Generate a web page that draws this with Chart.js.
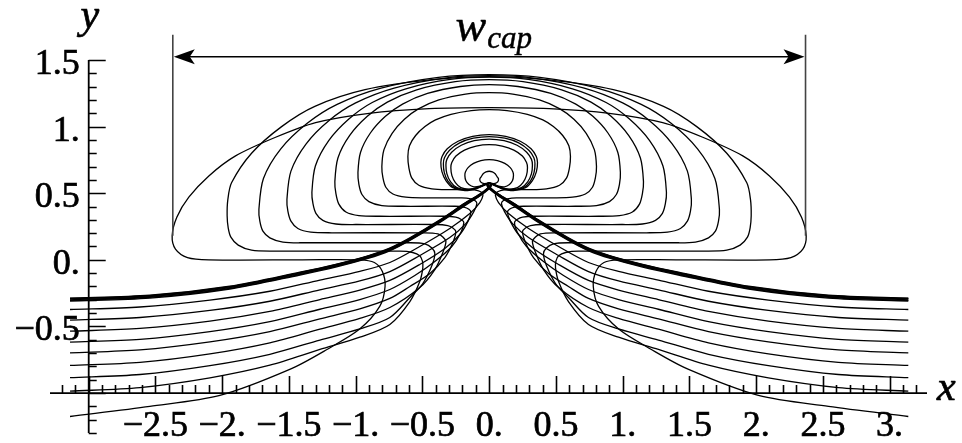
<!DOCTYPE html>
<html><head><meta charset="utf-8">
<script src="https://cdn.jsdelivr.net/npm/chart.js@4.4.0/dist/chart.umd.min.js"></script>
<style>html,body{margin:0;padding:0;background:#fff;overflow:hidden}#wrap{width:962px;height:443px;position:relative}</style>
</head><body><div id="wrap"><canvas id="c" width="962" height="443"></canvas></div>
<script>
// ---- data: left halves of each symmetric curve (x, y) ----
const loop1Half = [[0,1.143],[-0.45,1.135],[-0.9,1.1],[-1.3,1.03],[-1.6,0.92],[-1.9,0.78],[-2.1,0.63],[-2.25,0.47],[-2.34,0.32],[-2.375,0.18],[-2.35,0.08],[-2.26,0.017],[-2.1,0.0],[-1.4,0.0],[-0.97,0.0],[-0.86,-0.02],[-0.8,-0.088],[-0.78,-0.2],[-0.82,-0.35],[-0.97,-0.52],[-1.215,-0.673],[-1.494,-0.823],[-2.017,-1.018],[-2.542,-1.1],[-3.14,-1.176]];
const loop2Half = [[0,1.375],[-0.43,1.352],[-0.93,1.277],[-1.306,1.152],[-1.555,1.0],[-1.78,0.8],[-1.93,0.578],[-1.958,0.45],[-1.963,0.33],[-1.955,0.24],[-1.935,0.17],[-1.88,0.11],[-1.78,0.072],[-1.62,0.065],[-0.67,0.065],[-0.573,0.055],[-0.52,0.03],[-0.5,-0.01],[-0.497,-0.06],[-0.52,-0.163],[-0.594,-0.313],[-0.744,-0.485],[-0.969,-0.581],[-1.268,-0.673],[-1.643,-0.791],[-2.092,-0.886],[-2.616,-0.959],[-3.14,-0.986]];
const loop3Half = [[0,1.39],[-0.38,1.37],[-0.81,1.289],[-1.139,1.167],[-1.363,1.025],[-1.561,0.833],[-1.691,0.61],[-1.725,0.377],[-1.718,0.29],[-1.695,0.215],[-1.643,0.165],[-1.545,0.133],[-1.388,0.128],[-0.594,0.128],[-0.482,0.12],[-0.429,0.089],[-0.407,0.047],[-0.429,-0.043],[-0.497,-0.178],[-0.594,-0.283],[-0.744,-0.433],[-0.969,-0.519],[-1.268,-0.602],[-1.643,-0.709],[-2.092,-0.794],[-2.616,-0.861],[-3.14,-0.885]];
const loop4Half = [[0,1.382],[-0.333,1.364],[-0.712,1.289],[-1.0,1.178],[-1.197,1.048],[-1.371,0.871],[-1.485,0.666],[-1.515,0.452],[-1.508,0.365],[-1.485,0.29],[-1.433,0.235],[-1.336,0.208],[-1.178,0.203],[-0.482,0.203],[-0.384,0.195],[-0.347,0.171],[-0.324,0.137],[-0.347,0.055],[-0.407,-0.073],[-0.52,-0.208],[-0.744,-0.358],[-0.969,-0.44],[-1.268,-0.521],[-1.643,-0.623],[-2.092,-0.706],[-2.616,-0.77],[-3.14,-0.793]];
const loop5Half = [[0,1.371],[-0.292,1.354],[-0.624,1.284],[-0.876,1.181],[-1.049,1.059],[-1.202,0.895],[-1.302,0.704],[-1.328,0.505],[-1.32,0.421],[-1.298,0.349],[-1.246,0.296],[-1.148,0.269],[-0.991,0.265],[-0.399,0.265],[-0.31,0.257],[-0.272,0.239],[-0.25,0.212],[-0.272,0.13],[-0.332,0.017],[-0.444,-0.103],[-0.594,-0.2],[-0.744,-0.29],[-0.969,-0.368],[-1.268,-0.443],[-1.643,-0.539],[-2.092,-0.616],[-2.616,-0.676],[-3.14,-0.698]];
const loop6Half = [[0,1.352],[-0.254,1.337],[-0.543,1.276],[-0.763,1.184],[-0.913,1.077],[-1.046,0.932],[-1.133,0.764],[-1.156,0.587],[-1.148,0.497],[-1.126,0.418],[-1.073,0.359],[-0.976,0.332],[-0.819,0.327],[-0.332,0.327],[-0.25,0.32],[-0.212,0.304],[-0.19,0.28],[-0.212,0.205],[-0.28,0.1],[-0.407,-0.013],[-0.557,-0.118],[-0.744,-0.223],[-0.969,-0.298],[-1.268,-0.371],[-1.643,-0.464],[-2.092,-0.539],[-2.616,-0.597],[-3.14,-0.618]];
const loop7Half = [[0,1.315],[-0.216,1.301],[-0.462,1.249],[-0.649,1.169],[-0.777,1.077],[-0.89,0.952],[-0.964,0.806],[-0.983,0.655],[-0.976,0.566],[-0.953,0.49],[-0.901,0.437],[-0.804,0.407],[-0.646,0.402],[-0.257,0.402],[-0.19,0.395],[-0.152,0.379],[-0.137,0.355],[-0.16,0.287],[-0.22,0.19],[-0.332,0.085],[-0.52,-0.035],[-0.744,-0.155],[-0.969,-0.227],[-1.268,-0.298],[-1.643,-0.387],[-2.092,-0.46],[-2.616,-0.515],[-3.14,-0.536]];
const loop8Half = [[0,1.255],[-0.177,1.244],[-0.377,1.2],[-0.53,1.133],[-0.635,1.055],[-0.727,0.95],[-0.788,0.827],[-0.804,0.7],[-0.796,0.617],[-0.774,0.545],[-0.721,0.494],[-0.624,0.47],[-0.482,0.465],[-0.205,0.465],[-0.137,0.458],[-0.107,0.445],[-0.092,0.422],[-0.115,0.362],[-0.175,0.272],[-0.295,0.167],[-0.52,0.032],[-0.744,-0.088],[-0.969,-0.158],[-1.268,-0.225],[-1.643,-0.311],[-2.092,-0.38],[-2.616,-0.433],[-3.14,-0.453]];
const loop9Half = [[0,1.127],[-0.134,1.12],[-0.286,1.092],[-0.402,1.05],[-0.481,1.0],[-0.551,0.933],[-0.597,0.856],[-0.609,0.775],[-0.601,0.689],[-0.579,0.613],[-0.527,0.56],[-0.429,0.533],[-0.295,0.527],[-0.145,0.527],[-0.085,0.52],[-0.055,0.505],[-0.047,0.482],[-0.07,0.43],[-0.145,0.347],[-0.295,0.235],[-0.52,0.1],[-0.744,-0.02],[-0.969,-0.087],[-1.268,-0.152],[-1.643,-0.236],[-2.092,-0.302],[-2.616,-0.354],[-3.14,-0.373]];
const small1Half = [[0,0.94],[-0.124,0.927],[-0.233,0.89],[-0.314,0.834],[-0.353,0.776],[-0.362,0.73],[-0.354,0.662],[-0.324,0.595],[-0.272,0.542],[-0.182,0.52],[-0.092,0.535],[-0.032,0.561],[0.002,0.572],[0.016,0.557],[-0.002,0.531],[-0.07,0.479],[-0.182,0.407],[-0.369,0.28],[-0.594,0.145],[-0.75,0.065],[-0.908,0.01],[-1.15,-0.055],[-1.418,-0.114],[-1.943,-0.219],[-2.542,-0.287],[-3.14,-0.309]];
const small2Half = [[0,0.925],[-0.118,0.913],[-0.221,0.878],[-0.297,0.823],[-0.335,0.767],[-0.343,0.722],[-0.336,0.655],[-0.309,0.591],[-0.257,0.542],[-0.175,0.524],[-0.092,0.539],[-0.032,0.565],[0.002,0.574],[0.015,0.559],[-0.004,0.533],[-0.07,0.482],[-0.182,0.412],[-0.369,0.285],[-0.594,0.15],[-0.75,0.07],[-0.908,0.015],[-1.15,-0.05],[-1.418,-0.109],[-1.943,-0.214],[-2.542,-0.281],[-3.14,-0.304]];
const small3Half = [[0,0.906],[-0.112,0.894],[-0.209,0.86],[-0.281,0.808],[-0.317,0.754],[-0.324,0.711],[-0.317,0.647],[-0.29,0.587],[-0.242,0.542],[-0.167,0.527],[-0.088,0.542],[-0.032,0.566],[0.002,0.575],[0.013,0.56],[-0.005,0.535],[-0.07,0.486],[-0.182,0.418],[-0.369,0.29],[-0.594,0.155],[-0.75,0.075],[-0.908,0.02],[-1.15,-0.045],[-1.418,-0.104],[-1.943,-0.209],[-2.542,-0.276],[-3.14,-0.3]];
const small4Half = [[0,0.865],[-0.098,0.854],[-0.185,0.824],[-0.249,0.779],[-0.28,0.73],[-0.287,0.692],[-0.279,0.632],[-0.253,0.58],[-0.212,0.542],[-0.145,0.531],[-0.077,0.546],[-0.028,0.569],[0.002,0.577],[0.013,0.562],[-0.007,0.537],[-0.07,0.49],[-0.182,0.422],[-0.369,0.295],[-0.594,0.16],[-0.75,0.081],[-0.908,0.025],[-1.15,-0.039],[-1.418,-0.098],[-1.943,-0.203],[-2.542,-0.271],[-3.14,-0.293]];
const small5Half = [[0,0.752],[-0.062,0.745],[-0.117,0.724],[-0.158,0.692],[-0.178,0.659],[-0.182,0.632],[-0.175,0.595],[-0.152,0.565],[-0.115,0.548],[-0.07,0.553],[-0.025,0.57],[0.002,0.578],[0.011,0.563],[-0.008,0.539],[-0.07,0.491],[-0.182,0.424],[-0.369,0.297],[-0.594,0.162],[-0.75,0.083],[-0.908,0.027],[-1.15,-0.037],[-1.418,-0.096],[-1.943,-0.201],[-2.542,-0.269],[-3.14,-0.29]];
const small6Half = [[0,0.665],[-0.024,0.66],[-0.045,0.646],[-0.06,0.623],[-0.07,0.606],[-0.064,0.585],[-0.045,0.573],[-0.02,0.573],[0.002,0.579],[0.01,0.565],[-0.009,0.541],[-0.07,0.493],[-0.182,0.426],[-0.369,0.3],[-0.594,0.165],[-0.75,0.086],[-0.908,0.03],[-1.15,-0.034],[-1.418,-0.093],[-1.943,-0.198],[-2.542,-0.266],[-3.14,-0.287]];

// ---- axes / ticks / labels ----
const xRange = [-3.29, 3.28];
const yRange = [-1.3, 1.5];
const xAxisAtY = -1;
const yAxisAtX = -3;
const xMajorTicks = [-2.5,-2,-1.5,-1,-0.5,0,0.5,1,1.5,2,2.5,3];
const xTickLabels = ['\u22122.5','\u22122.','\u22121.5','\u22121.','\u22120.5','0.','0.5','1.','1.5','2.','2.5','3.'];
const yMajorTicks = [-0.5,0,0.5,1,1.5];
const yTickLabels = ['\u22120.5','0.','0.5','1.','1.5'];
const xMinorRange = [-3.2, 3.2];
const yMinorRange = [-1.3, 1.5];
const minorStep = 0.1;
const axisTitles = {x:'x', y:'y'};
// width annotation
const capLabel = {main:'w', sub:'cap'};
const capHalfWidth = 2.37;
const capArrowY = 1.525;
const capGuideTop = 1.69;
const capGuideBottom = 0.18;

const curveHalves = [loop1Half,loop2Half,loop3Half,loop4Half,loop5Half,loop6Half,loop7Half,loop8Half,loop9Half,
  small1Half,small2Half,small3Half,small4Half,small5Half,small6Half];

function fullCurve(half){
  const right = half.slice().reverse().map(p => ({x: -p[0], y: p[1]}));
  const left = half.slice(1).map(p => ({x: p[0], y: p[1]}));
  return right.concat(left);
}

const datasets = curveHalves.map((h,i) => ({
  label: 'curve ' + (i+1),
  data: fullCurve(h),
  showLine: true,
  borderColor: '#000',
  borderWidth: 1.3,
  pointRadius: 0,
  tension: 0.3,
  fill: false
}));

const fnt = (style, px) => (style ? style + ' ' : '') + px + 'px "Liberation Serif", monospace';

function heavyText(ctx, s, x, y){ ctx.fillText(s, x, y); ctx.strokeText(s, x, y); }

const mathAxes = {
  id: 'mathAxes',
  afterDraw(chart){
    const ctx = chart.ctx;
    const xs = chart.scales.x, ys = chart.scales.y;
    const X = v => xs.getPixelForValue(v), Y = v => ys.getPixelForValue(v);
    const ax = X(yAxisAtX), ay = Y(xAxisAtY);
    ctx.save();
    ctx.strokeStyle = '#000';
    ctx.lineWidth = 1.8;
    ctx.beginPath();
    ctx.moveTo(X(xRange[0]), ay); ctx.lineTo(X(xRange[1]), ay);
    ctx.moveTo(ax, Y(yRange[0])); ctx.lineTo(ax, Y(yRange[1]));
    ctx.stroke();
    ctx.lineWidth = 1.6;
    ctx.beginPath();
    const nx0 = Math.round(xMinorRange[0]/minorStep), nx1 = Math.round(xMinorRange[1]/minorStep);
    for (let i = nx0; i <= nx1; i++){
      const v = i*minorStep; const px = Math.round(X(v)) + 0.5;
      const len = (i % 5 === 0) ? 17 : 8;
      ctx.moveTo(px, ay); ctx.lineTo(px, ay - len);
    }
    const ny0 = Math.round(yMinorRange[0]/minorStep), ny1 = Math.round(yMinorRange[1]/minorStep);
    for (let i = ny0; i <= ny1; i++){
      const v = i*minorStep; const py = Math.round(Y(v)) + 0.5;
      const len = (i % 5 === 0) ? 17 : 8;
      ctx.moveTo(ax, py); ctx.lineTo(ax + len, py);
    }
    ctx.stroke();
    // tick labels
    ctx.fillStyle = '#000';
    ctx.strokeStyle = '#000';
    ctx.lineWidth = 0.7;
    ctx.font = fnt('', 36);
    ctx.textBaseline = 'alphabetic';
    ctx.textAlign = 'center';
    xMajorTicks.forEach((v,i) => heavyText(ctx, xTickLabels[i], X(v), ay + 43));
    ctx.textAlign = 'right';
    yMajorTicks.forEach((v,i) => heavyText(ctx, yTickLabels[i], ax - 9, Y(v) + 14));
    // axis titles
    ctx.font = fnt('italic', 42);
    ctx.textAlign = 'left';
    heavyText(ctx, axisTitles.x, X(xRange[1]) + 10, ay + 7);
    ctx.textAlign = 'center';
    heavyText(ctx, axisTitles.y, ax + 1, 28);
    // width annotation
    const xl = X(-capHalfWidth), xr = X(capHalfWidth), yA = Y(capArrowY);
    ctx.strokeStyle = '#444'; ctx.lineWidth = 1.6;
    ctx.beginPath();
    ctx.moveTo(xl, Y(capGuideTop)); ctx.lineTo(xl, Y(capGuideBottom));
    ctx.moveTo(xr, Y(capGuideTop)); ctx.lineTo(xr, Y(capGuideBottom));
    ctx.stroke();
    ctx.strokeStyle = '#000'; ctx.lineWidth = 1.5;
    ctx.beginPath(); ctx.moveTo(xl + 6, yA); ctx.lineTo(xr - 6, yA); ctx.stroke();
    const head = (tip, dir) => {
      ctx.beginPath();
      ctx.moveTo(tip, yA);
      ctx.lineTo(tip + dir*21, yA - 7.5);
      ctx.lineTo(tip + dir*16, yA);
      ctx.lineTo(tip + dir*21, yA + 7.5);
      ctx.closePath(); ctx.fill();
    };
    head(xl + 1, 1); head(xr - 1, -1);
    ctx.lineWidth = 0.5;
    ctx.textAlign = 'left';
    ctx.font = fnt('italic', 46);
    const wW = ctx.measureText(capLabel.main).width;
    ctx.font = fnt('italic', 31);
    const sW = ctx.measureText(capLabel.sub).width;
    const x0 = X(0) - (wW + sW)/2 + 4;
    ctx.font = fnt('italic', 46);
    heavyText(ctx, capLabel.main, x0, 41);
    ctx.font = fnt('italic', 31);
    heavyText(ctx, capLabel.sub, x0 + wW + 1, 48);
    ctx.restore();
  }
};

const chart = new Chart(document.getElementById('c'), {
  type: 'scatter',
  data: { datasets },
  options: {
    responsive: false,
    animation: false,
    devicePixelRatio: 1,
    layout: { padding: { left: 50, right: 35, top: 60, bottom: 10 } },
    plugins: { legend: { display: false }, tooltip: { enabled: false } },
    scales: {
      x: { type: 'linear', min: xRange[0], max: xRange[1], display: false },
      y: { type: 'linear', min: yRange[0], max: yRange[1], display: false }
    }
  },
  plugins: [mathAxes]
});
if (document.fonts && document.fonts.ready) {
  document.fonts.ready.then(() => chart.draw());
}
</script>
</body></html>
